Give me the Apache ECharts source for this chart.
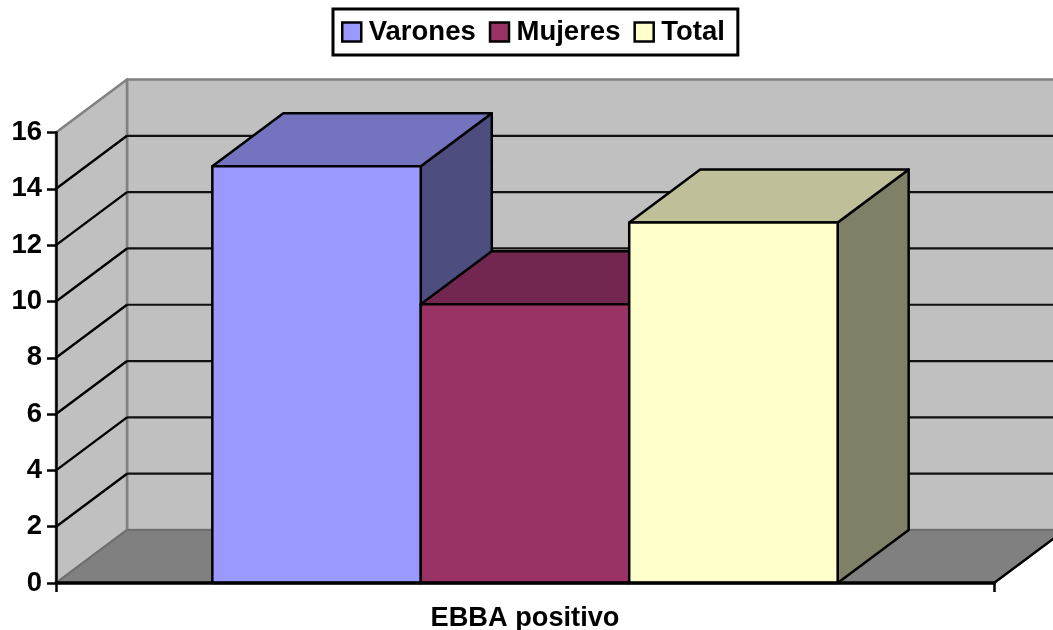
<!DOCTYPE html>
<html>
<head>
<meta charset="utf-8">
<title>EBBA positivo</title>
<script src="https://cdn.jsdelivr.net/npm/echarts@6/dist/echarts.min.js"></script>
<style>
  html, body { margin: 0; padding: 0; background: #fff; }
  #chart { width: 1053px; height: 630px; }
</style>
</head>
<body>
<div id="chart"></div>
<script>
const categories = ['EBBA positivo']
const varones = [14.8]
const mujeres = [9.9]
const total = [12.8]
const seriesNames = ['Varones', 'Mujeres', 'Total']
const seriesValues = [varones, mujeres, total]
const frontColors = ['#9999FF', '#993366', '#FFFFCC']
const topColors = ['#7373BF', '#732650', '#BFBF99']
const sideColors = ['#4D4D80', '#4D1A33', '#808066']
const gridValues = [2, 4, 6, 8, 10, 12, 14]

// fake 3D: how far the back wall sits from the front plane, in pixels
const depthX = 71
const depthY = 53
const fontFamily = '"Liberation Sans", Arial, sans-serif'

function poly(points, fill, stroke, lineWidth) {
  return {
    type: 'polygon',
    shape: { points },
    style: { fill, stroke, lineWidth, lineJoin: 'round' }
  }
}

function line(x1, y1, x2, y2, stroke, lineWidth) {
  return {
    type: 'line',
    shape: { x1, y1, x2, y2 },
    style: { stroke, lineWidth }
  }
}

// walls, floor and the grid lines that run across them
function renderWalls(params, api) {
  const box = params.coordSys
  const left = box.x
  const right = box.x + box.width
  const bottom = api.coord([0, 0])[1]
  const top = api.coord([0, 16])[1]
  const children = [
    poly([[left + depthX, top - depthY], [right + depthX, top - depthY], [right + depthX, bottom - depthY], [left + depthX, bottom - depthY]], '#C0C0C0', '#808080', 2.5),
    poly([[left, top], [left + depthX, top - depthY], [left + depthX, bottom - depthY], [left, bottom]], '#C0C0C0', '#808080', 2.5),
    poly([[left, bottom], [left + depthX, bottom - depthY], [right + depthX, bottom - depthY], [right, bottom]], '#808080', '#6E6E6E', 2),
    line(right, bottom, right + depthX, bottom - depthY, '#000', 2.5)
  ]
  gridValues.forEach(v => {
    const y = api.coord([0, v])[1]
    children.push(line(left, y, left + depthX, y - depthY, '#000', 2.4))
    children.push(line(left + depthX, y - depthY, right + depthX, y - depthY, '#111', 2.2))
  })
  return { type: 'group', children }
}

function renderBar(index) {
  return function (params, api) {
    const band = api.size([1, 0])[0]
    const barWidth = band / 4.5
    const center = api.coord([api.value(0), 0])[0]
    const x0 = center - barWidth * 1.5 + index * barWidth
    const x1 = x0 + barWidth
    const yTop = api.coord([api.value(0), api.value(1)])[1]
    const yBottom = api.coord([api.value(0), 0])[1]
    return {
      type: 'group',
      children: [
        poly([[x1, yTop], [x1 + depthX, yTop - depthY], [x1 + depthX, yBottom - depthY], [x1, yBottom]], sideColors[index], '#000', 2.5),
        poly([[x0, yTop], [x0 + depthX, yTop - depthY], [x1 + depthX, yTop - depthY], [x1, yTop]], topColors[index], '#000', 2.5),
        poly([[x0, yTop], [x1, yTop], [x1, yBottom], [x0, yBottom]], frontColors[index], '#000', 2.5)
      ]
    }
  }
}

const barSeries = seriesNames.map((name, i) => ({
  name,
  type: 'custom',
  z: 3,
  itemStyle: { color: frontColors[i] },
  encode: { x: 0, y: 1 },
  data: seriesValues[i].map((v, c) => [c, v]),
  renderItem: renderBar(i)
}))

const option = {
  animation: false,
  backgroundColor: '#fff',
  legend: {
    data: seriesNames,
    left: 333,
    top: 9,
    icon: 'rect',
    itemWidth: 19,
    itemHeight: 19,
    itemGap: 13,
    padding: [9, 13, 9, 8],
    borderColor: '#000',
    borderWidth: 3,
    selectedMode: false,
    itemStyle: { borderColor: '#000', borderWidth: 2.5 },
    textStyle: { color: '#000', fontSize: 27.5, fontWeight: 'bold', fontFamily, padding: [0, 0, 0, 2.5] }
  },
  grid: { left: 56, right: 59, top: 132.5, bottom: 47, outerBoundsMode: 'none' },
  xAxis: {
    type: 'category',
    data: categories,
    z: 5,
    axisLine: { lineStyle: { color: '#000', width: 3.5 } },
    axisTick: { show: true, interval: 0, length: 9, lineStyle: { color: '#000', width: 2.5 } },
    axisLabel: { color: '#000', fontSize: 27.2, fontWeight: 'bold', fontFamily, margin: 22 }
  },
  yAxis: {
    type: 'value',
    min: 0,
    max: 16,
    interval: 2,
    z: 5,
    splitLine: { show: false },
    axisLine: { show: true, lineStyle: { color: '#000', width: 2.5 } },
    axisTick: { show: true, length: 9, lineStyle: { color: '#000', width: 2.5 } },
    axisLabel: { color: '#000', fontSize: 27.5, fontWeight: 'bold', fontFamily, margin: 14, padding: [2, 0, 0, 0] }
  },
  series: [
    {
      name: 'walls',
      type: 'custom',
      z: 1,
      silent: true,
      encode: { x: 0, y: 1 },
      data: [[0, 0]],
      renderItem: renderWalls
    }
  ].concat(barSeries)
}

const myChart = echarts.init(document.getElementById('chart'))
myChart.setOption(option)
window.onresize = function () {
  myChart.resize()
}
</script>
</body>
</html>
